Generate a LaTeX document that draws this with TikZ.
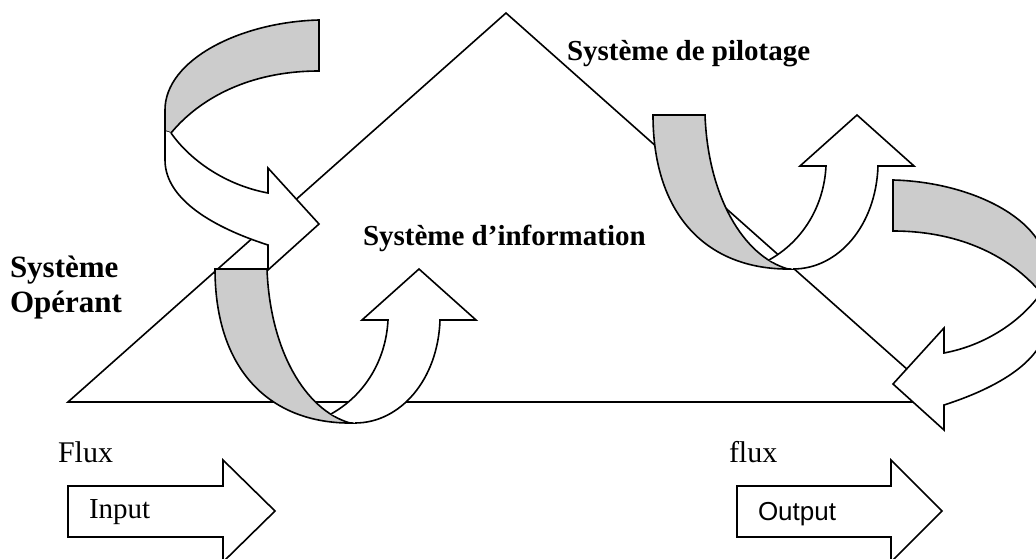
\documentclass[tikz,border=0pt]{standalone}
\usepackage{fontspec}
\setmainfont{Liberation Serif}
\newfontfamily\arialfont{Liberation Sans}
\definecolor{bandgray}{gray}{0.8}
\tikzset{
  outline/.style={draw=black, line width=1.6pt, line join=miter},
  band/.style={outline, fill=bandgray},
  face/.style={outline, fill=white},
  lbl/.style={anchor=base west, inner sep=0pt, outer sep=0pt},
  boldlbl/.style={lbl, font=\bfseries\fontsize{29}{35}\selectfont},
  plainlbl/.style={lbl, font=\fontsize{29}{35}\selectfont},
  % ribbon that rolls over to the left and comes back as an arrow pointing right
  curlright/.pic={
    \filldraw[band] (319,20) .. controls (240,22) and (165,60) .. (165,110)
      -- (165,131) -- (171,133) .. controls (200,98) and (250,71) .. (319,71) -- cycle;
    \filldraw[face] (171,133) .. controls (190,160) and (225,185) .. (268,193)
      -- (268,168) -- (319,224) -- (268,270) -- (268,245)
      .. controls (215,228) and (165,200) .. (165,160) -- (165,131);
  },
  % ribbon that dips down and comes back up as an arrow pointing up
  curlup/.pic={
    \filldraw[band] (215,269) -- (267,269) .. controls (270,350) and (305,410) .. (350,423)
      -- (355,423) .. controls (270,425) and (215,370) .. (215,269) -- cycle;
    \filldraw[face] (331,414) .. controls (365,395) and (386,360) .. (388,320)
      -- (362,320) -- (419,269) -- (476,320) -- (440,320)
      .. controls (438,380) and (400,423) .. (355,423);
  },
}
\begin{document}
\begin{tikzpicture}[x=1pt, y=-1pt]
  \useasboundingbox (0,0) rectangle (1036,559);
  \clip (0,0) rectangle (1036,559);

  % the pyramid of the organisation
  \draw[outline] (68,402) -- (506,13) -- (944,402) -- cycle;

  % information loops
  \pic {curlright};
  \pic {curlup};
  \pic at (438,-154) {curlup};
  \pic[xscale=-1] at (1212,160) {curlright};

  % physical flows
  \filldraw[face] (68,486) -- (223,486) -- (223,460) -- (275,511) -- (223,562)
    -- (223,537) -- (68,537) -- cycle;
  \filldraw[face] (737,486) -- (891,486) -- (891,460) -- (942,511) -- (891,562)
    -- (891,537) -- (737,537) -- cycle;

  % labels
  \node[boldlbl] (pilot) at (567,61) {Système de pilotage};
  \node[boldlbl] (info) at (363,245) {Système d’information};
  \node[lbl, font=\bfseries\fontsize{31}{35}\selectfont] (oper1) at (10,277) {Système};
  \node[lbl, font=\bfseries\fontsize{31}{35}\selectfont] (oper2) at (10,312) {Opérant};
  \node[lbl, font=\fontsize{30}{35}\selectfont] (fluxin) at (58,462) {Flux};
  \node[plainlbl] (input) at (89,518) {Input};
  \node[lbl, font=\fontsize{30}{35}\selectfont] (fluxout) at (729,462) {flux};
  \node[lbl, font=\arialfont\fontsize{26}{30}\selectfont] (output) at (758,520) {Output};
\end{tikzpicture}
\end{document}
